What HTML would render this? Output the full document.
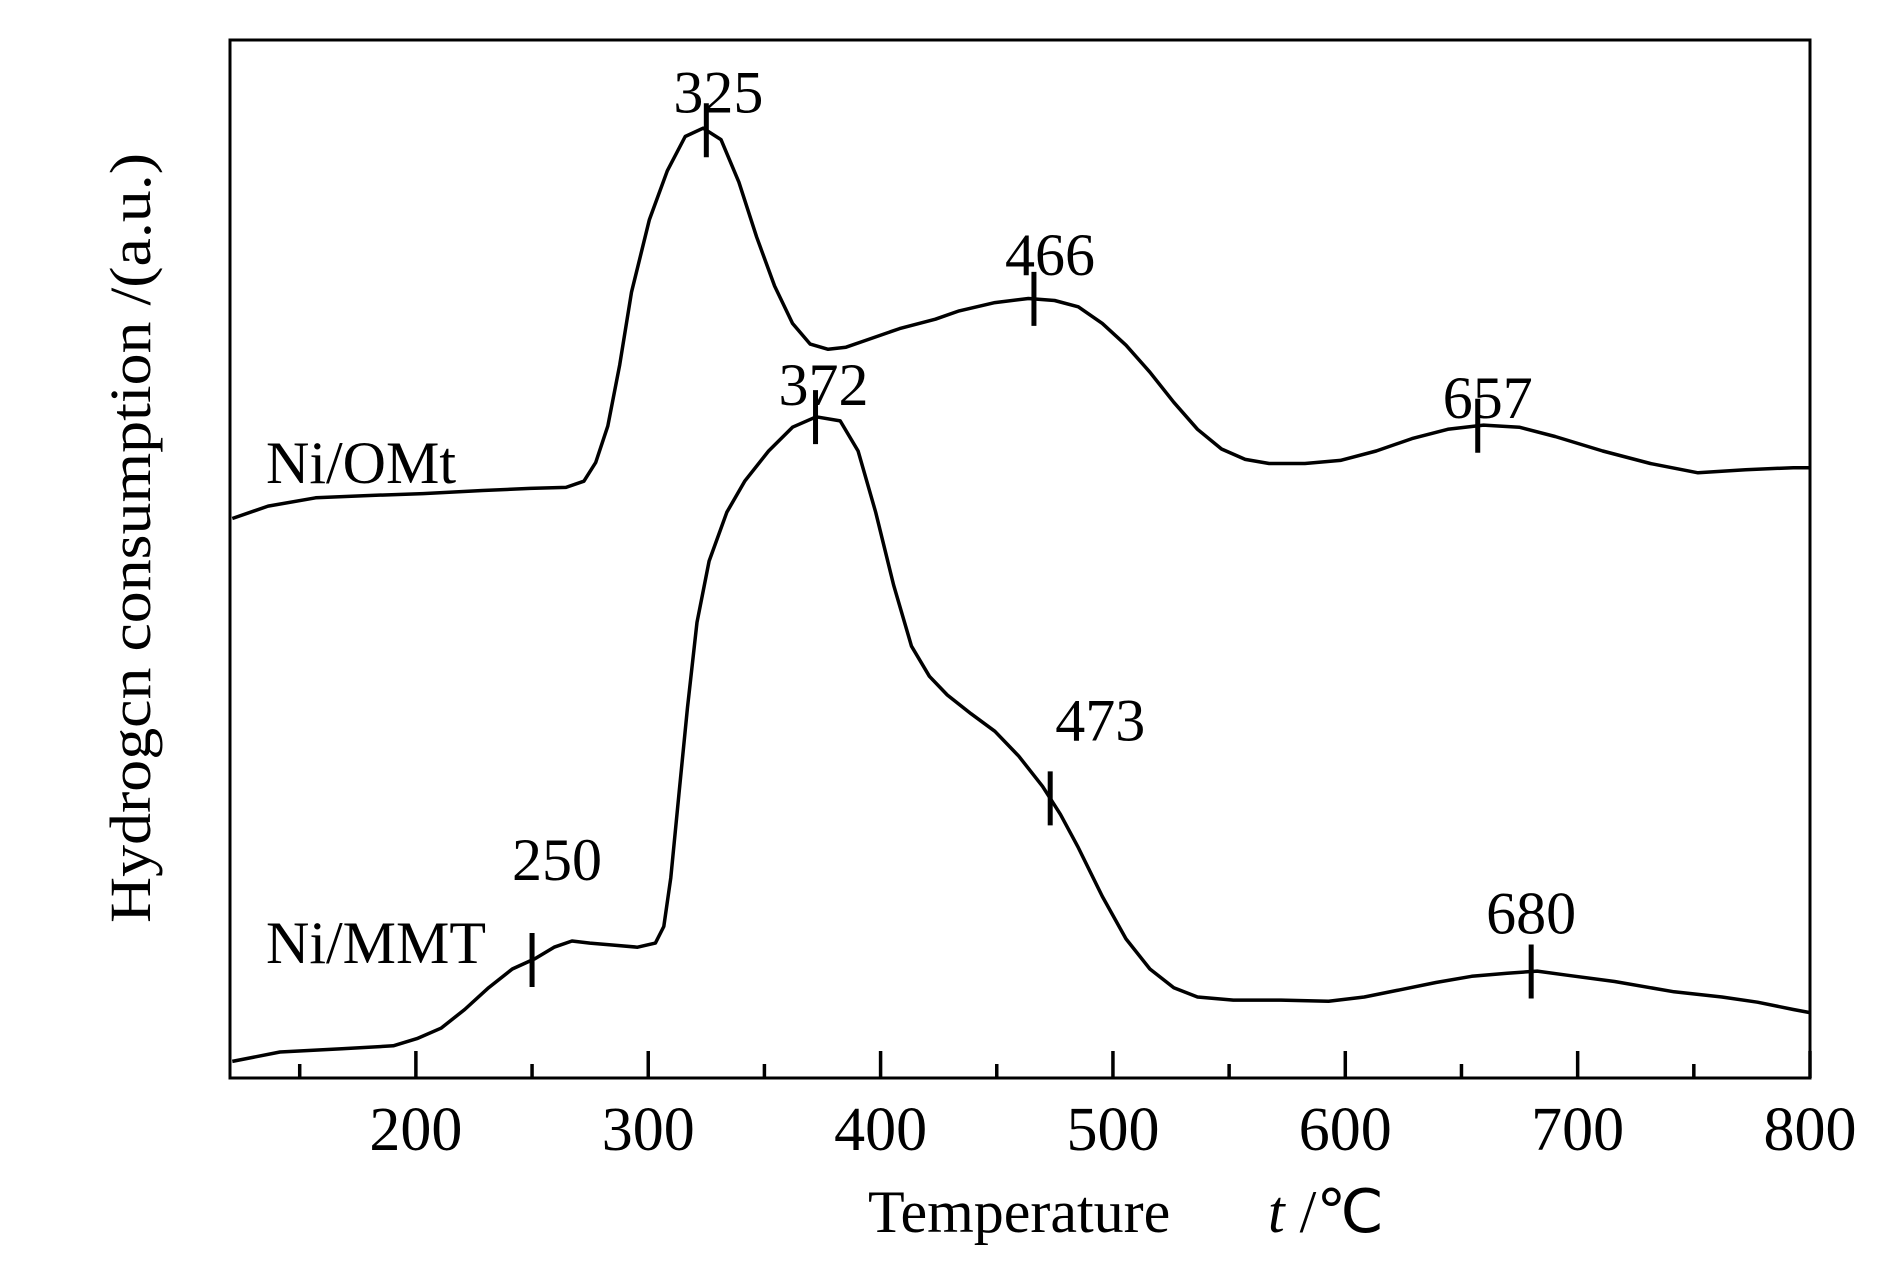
<!DOCTYPE html>
<html><head><meta charset="utf-8"><style>
html,body{margin:0;padding:0;background:#fff;}
svg{display:block;font-family:"Liberation Serif",serif;}
</style></head><body>
<svg id="chart" width="1890" height="1276" viewBox="0 0 1890 1276" xmlns="http://www.w3.org/2000/svg">
<rect x="0" y="0" width="1890" height="1276" fill="#fff"/>
<g id="axes"></g>
<g id="series"></g>
<text transform="translate(150,538) rotate(-90)" text-anchor="middle" font-size="58" textLength="770" lengthAdjust="spacingAndGlyphs">Hydrogcn consumption /(a.u.)</text>
<text x="868" y="1232" font-size="60">Temperature</text>
<text x="1268" y="1232" font-size="60"><tspan font-style="italic">t</tspan> /℃</text>
</svg>
<script>
const xTicks=[200,300,400,500,600,700,800];
const xMinor=[150,250,350,450,550,650,750];
const omtT=[121,136.4,156.9,177.4,203.1,228.7,249.2,264.6,272.3,277.4,282.6,287.7,292.8,300.5,308.2,315.9,323.6,331.3,339.0,346.7,354.4,362.1,369.7,377.4,385.1,392.8,408.2,423.6,433.8,449.2,463.6,474.9,485.1,495.4,505.6,515.9,526.2,536.4,546.7,556.9,567.2,582.6,597.9,613.3,628.7,644.1,659.5,674.9,690.3,710.8,731.3,751.8,772.3,792.8,800];
const omtV=[53.9,55.1,55.9,56.1,56.3,56.6,56.8,56.9,57.5,59.3,62.8,68.7,75.7,82.7,87.4,90.7,91.5,90.4,86.3,81.0,76.3,72.7,70.7,70.2,70.4,71.0,72.2,73.1,73.9,74.7,75.1,74.9,74.3,72.7,70.6,68.0,65.1,62.5,60.6,59.6,59.2,59.2,59.5,60.4,61.6,62.5,62.9,62.7,61.8,60.4,59.2,58.3,58.6,58.8,58.8];
const mmtT=[121,141.5,167.2,190.3,200.5,210.8,221.0,231.3,241.5,251.3,259.5,267.2,274.9,285.1,295.4,303.1,306.7,309.7,313.3,316.9,321.0,326.2,333.8,341.5,351.8,362.1,372.3,382.6,390.3,397.9,405.6,413.3,421.0,428.7,438.9,449.2,459.5,469.7,477.4,485.1,495.4,505.6,515.9,526.2,536.4,551.8,572.3,592.8,608.2,623.6,639.0,654.4,669.7,682.6,695.4,715.9,741.5,762.1,777.4,792.8,800];
const mmtV=[1.6,2.5,2.8,3.1,3.8,4.8,6.6,8.7,10.5,11.5,12.6,13.2,13.0,12.8,12.6,13.0,14.6,19.3,27.5,35.7,43.9,49.8,54.5,57.5,60.4,62.7,63.7,63.3,60.4,54.5,47.5,41.6,38.7,36.9,35.1,33.4,31.0,28.1,25.4,22.2,17.5,13.4,10.5,8.7,7.8,7.5,7.5,7.4,7.8,8.5,9.2,9.8,10.1,10.3,9.9,9.3,8.3,7.8,7.3,6.6,6.3];
const omtPeaks=[325,466,657];
const mmtPeaks=[250,372,473,680];
const NS="http://www.w3.org/2000/svg";
const X0=230,X1=1810,Y0=1078,Y1=40,TMIN=120,TMAX=800;
function sx(t){return X0+(t-TMIN)/(TMAX-TMIN)*(X1-X0);}
function sy(v){return Y0-v/100*(Y0-Y1);}
function interp(T,V,t){for(let i=1;i<T.length;i++){if(t<=T[i]){const f=(t-T[i-1])/(T[i]-T[i-1]);return V[i-1]+f*(V[i]-V[i-1]);}}return V[V.length-1];}
function mk(tag,attrs,parent){const e=document.createElementNS(NS,tag);for(const k in attrs)e.setAttribute(k,attrs[k]);parent.appendChild(e);return e;}
const axes=document.getElementById('axes'),series=document.getElementById('series');
const frame=mk('rect',{x:X0,y:Y1,width:X1-X0,height:Y0-Y1,fill:'none',stroke:'#000','stroke-width':3},axes);


xTicks.forEach(t=>{
 const l=mk('line',{x1:sx(t),x2:sx(t),y1:Y0,y2:Y0-27,stroke:'#000','stroke-width':3.5},axes);
 
 
 const tx=mk('text',{x:sx(t),y:1150,'text-anchor':'middle','font-size':62},axes);
 tx.textContent=t;
 
 
});
xMinor.forEach(t=>{
 const l=mk('line',{x1:sx(t),x2:sx(t),y1:Y0,y2:Y0-14,stroke:'#000','stroke-width':3.5},axes);
 
 
});
function drawSeries(T,V,name){
 const d=T.map((t,i)=>(i?'L':'M')+sx(t).toFixed(1)+','+sy(V[i]).toFixed(1)).join(' ');
 const p=mk('path',{d:d,fill:'none',stroke:'#000','stroke-width':3.5,'stroke-linejoin':'round'},series);
 
 
}
drawSeries(omtT,omtV,'ni-omt-curve');
drawSeries(mmtT,mmtV,'ni-mmt-curve');
function drawPeaks(P,T,V,name,offs){
 P.forEach((t,i)=>{
  const cx=sx(t),cy=sy(interp(T,V,t));
  const l=mk('line',{x1:cx,x2:cx,y1:cy-27,y2:cy+27,stroke:'#000','stroke-width':5},series);
  
  
  const o=offs[i];
  const tx=mk('text',{x:cx+o[0],y:cy+o[1],'text-anchor':'middle','font-size':60},series);
  tx.textContent=t;
  
  
 });
}
drawPeaks(omtPeaks,omtT,omtV,'ni-omt',[[12,-18],[16,-24],[10,-8]]);
drawPeaks(mmtPeaks,mmtT,mmtV,'ni-mmt',[[25,-80],[8,-12],[50,-58],[0,-38]]);
const l1=mk('text',{x:266,y:483,'font-size':60},series);l1.textContent='Ni/OMt';


const l2=mk('text',{x:266,y:963,'font-size':60},series);l2.textContent='Ni/MMT';


</script>
</body></html>
